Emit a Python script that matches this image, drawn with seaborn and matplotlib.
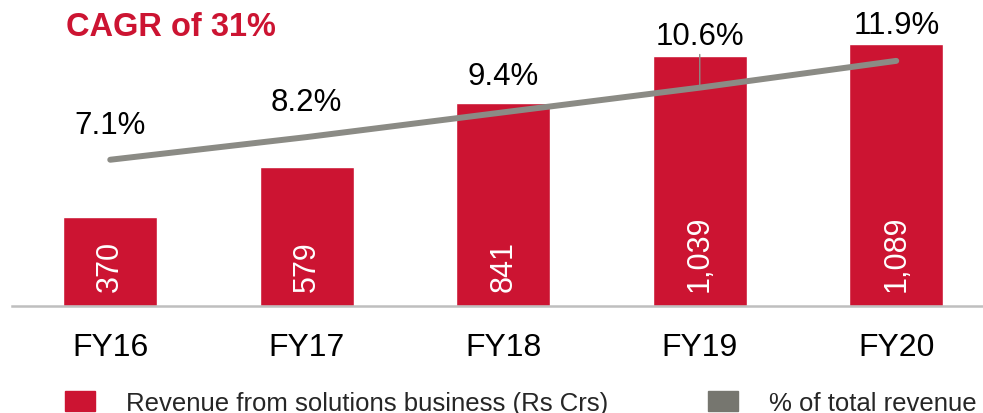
import numpy as np
import pandas as pd
import matplotlib
matplotlib.use("Agg")
import matplotlib.pyplot as plt
from matplotlib.patches import Patch
import seaborn as sns

years = ["FY16", "FY17", "FY18", "FY19", "FY20"]
revenue = [370, 579, 841, 1039, 1089]
share = [7.1, 8.2, 9.4, 10.6, 11.9]
revenue_labels = ["370", "579", "841", "1,039", "1,089"]
share_labels = ["7.1%", "8.2%", "9.4%", "10.6%", "11.9%"]

red = "#CC1432"
grey = "#8B8B85"

sns.set_theme(style="white")
plt.rcParams["font.family"] = ["Liberation Sans", "DejaVu Sans"]

df = pd.DataFrame({"year": years, "revenue": revenue, "share": share})

fig = plt.figure(figsize=(9.83, 4.14), dpi=100)
ax = fig.add_axes([12 / 983, 107 / 414, 982.5 / 983, 289 / 414])

sns.barplot(data=df, x="year", y="revenue", color=red, width=0.48,
            saturation=1, ax=ax)
ax.set_ylim(0, 1200)
ax.set_xlim(-0.5, 4.5)

# value labels inside the bars
for i, lab in enumerate(revenue_labels):
    ax.text(i, 62, lab, rotation=90, ha="center", va="bottom",
            color="white", fontsize=22)

ax2 = ax.twinx()
sns.lineplot(x=np.arange(len(years)), y=share, color=grey, linewidth=4.3,
             ax=ax2, solid_capstyle="round")
ax2.set_ylim(0, 289 / 20.6)

offsets = [25, 25, 26, 37, 26]
for i, (v, lab) in enumerate(zip(share, share_labels)):
    if i == 3:
        ax2.annotate(lab, (i, v), xytext=(0, offsets[i]), textcoords="offset points",
                     ha="center", va="center", fontsize=22.5, color="black",
                     arrowprops=dict(arrowstyle="-", color=grey, lw=1,
                                     shrinkA=0, shrinkB=0,
                                     relpos=(0.5, 0.0)))
    else:
        ax2.annotate(lab, (i, v), xytext=(0, offsets[i]), textcoords="offset points",
                     ha="center", va="center", fontsize=22.5, color="black")

for a in (ax, ax2):
    for s in a.spines.values():
        s.set_visible(False)
    a.set_yticks([])
    a.set_ylabel("")
ax.spines["bottom"].set_visible(True)
ax.spines["bottom"].set_color("#BFBFBF")
ax.spines["bottom"].set_linewidth(1.8)
ax.set_xlabel("")
ax.tick_params(axis="x", length=0, pad=19, labelsize=23, colors="black")

fig.text(66 / 983, 1 - 28 / 414, "CAGR of 31%", color=red, fontsize=23.5,
         fontweight="bold", va="center", ha="left")

handles = [Patch(color=red), Patch(color="#76766F")]
fig.legend(handles, ["Revenue from solutions business (Rs Crs)", "% of total revenue"],
           loc="center left", bbox_to_anchor=(65 / 983, 1 - 404 / 414), ncol=2,
           frameon=False, handlelength=1.17, handleheight=0.8,
           handletextpad=1.2, columnspacing=3.9, borderaxespad=0, borderpad=0,
           prop={"family": ["Liberation Sans", "DejaVu Sans"], "size": 18.5})

fig.savefig("out.png", dpi=100)
